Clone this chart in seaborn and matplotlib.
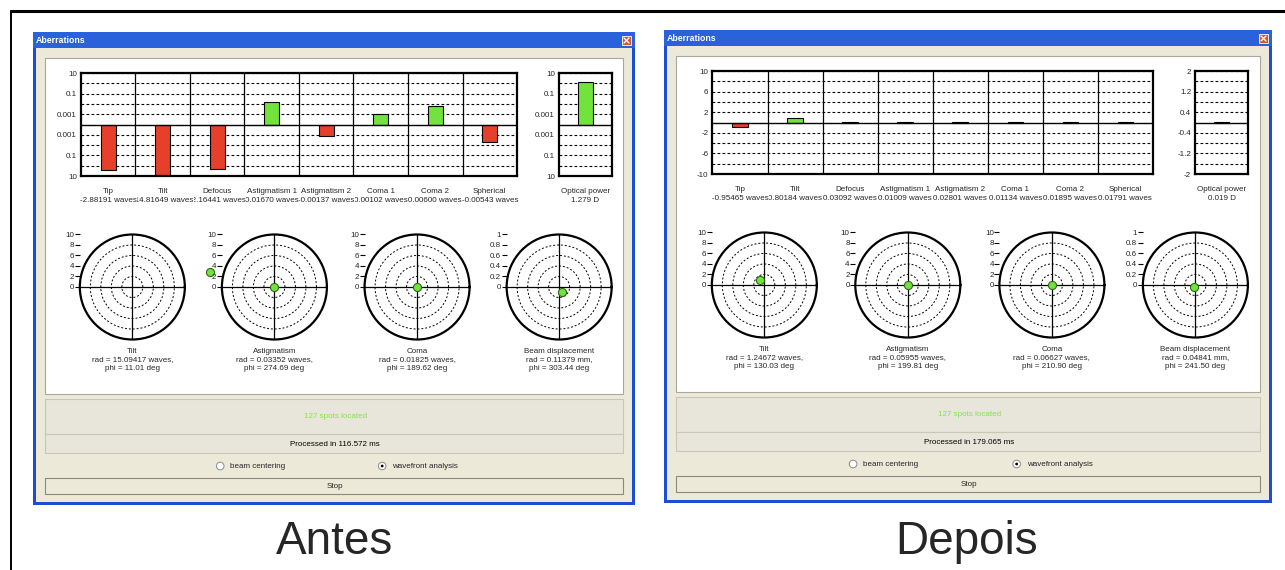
import numpy as np
import seaborn as sns
import matplotlib.pyplot as plt
from matplotlib import patches

# aberration coefficients (bar charts)
names = ['Tip', 'Tilt', 'Defocus', 'Astigmatism 1', 'Astigmatism 2', 'Coma 1', 'Coma 2', 'Spherical']
before_waves = [-2.88191, -14.81649, -2.16441, 0.01670, -0.00137, 0.00102, 0.00600, -0.00543]
after_waves = [-0.95465, 0.80184, 0.03092, 0.01009, 0.02801, 0.01134, 0.01895, 0.01791]
before_power = 1.279
after_power = 0.019

# axis ticks of the bar charts
before_yticks = [-10, -1, -0.1, -0.01, -0.001, 0.001, 0.01, 0.1, 1, 10]
before_ylabels = ['10', '', '0.1', '', '0.001', '0.001', '', '0.1', '', '10']
after_yticks = [-10, -8, -6, -4, -2, 2, 4, 6, 8, 10]
after_ylabels = ['-10', '', '-6', '', '-2', '2', '', '6', '', '10']
after_power_yticks = [-2, -1.6, -1.2, -0.8, -0.4, 0.4, 0.8, 1.2, 1.6, 2]
after_power_ylabels = ['-2', '', '-1.2', '', '-0.4', '0.4', '', '1.2', '', '2']

# polar plots
polar_names = ['Tilt', 'Astigmatism', 'Coma', 'Beam displacement']
polar_units = ['waves', 'waves', 'waves', 'mm']
polar_rmax = [10, 10, 10, 1]
polar_rlabels = [['0', '2', '4', '6', '8', '10']] * 3 + [['0', '0.2', '0.4', '0.6', '0.8', '1']]
before_rad = [15.09417, 0.03352, 0.01825, 0.11379]
before_phi = [11.01, 274.69, 189.62, 303.44]
after_rad = [1.24672, 0.05955, 0.06627, 0.04841]
after_phi = [130.03, 199.81, 210.90, 241.50]

before_ms = 116.572
after_ms = 179.065
spots = 127

W, H = 1285, 570
RED = '#e6402a'
GREEN = '#72e23c'
XP_GRAY = '#ece9d8'
SMALL = 5.8


def px_axes(fig, x0, y0, x1, y1, **kw):
    return fig.add_axes([x0 / W, 1 - y1 / H, (x1 - x0) / W, (y1 - y0) / H], **kw)


def bar_panel(fig, box, labels, values, yticks, ylabels, value_fmt, symlog):
    ax = px_axes(fig, *box)
    colors = [RED if v < 0 else GREEN for v in values]
    sns.barplot(x=labels, y=values, hue=labels, palette=colors, legend=False, width=0.28,
                saturation=1, edgecolor='black', linewidth=0.8, ax=ax)
    if symlog:
        ax.set_yscale('symlog', linthresh=1e-4, linscale=1e-6)
    ax.set_ylim(yticks[0], yticks[-1])
    ax.set_yticks(yticks, ylabels)
    ax.set_xlim(-0.5, len(labels) - 0.5)
    ax.set_xticks(np.arange(0.5, len(labels) - 1), minor=True)
    ax.set_xlabel('')
    ax.set_ylabel('')
    ax.set_axisbelow(True)
    ax.grid(axis='y', which='major', color='black', ls=(0, (2.5, 2)), lw=0.8)
    ax.grid(axis='x', which='minor', color='black', ls='-', lw=0.9)
    ax.axhline(0, color='black', lw=1.0)
    ax.tick_params(which='both', length=0, labelsize=SMALL)
    ax.tick_params(axis='y', pad=3)
    ax.tick_params(axis='x', pad=8.5)
    for s in ax.spines.values():
        s.set_visible(True)
        s.set_linewidth(1.6)
        s.set_color('black')
    n = len(values)
    for i, v in enumerate(values):
        ax.annotate(value_fmt.format(v), xy=(i, 0), xycoords=('data', 'axes fraction'),
                    xytext=(0, -15), textcoords='offset points', ha='center', va='top',
                    fontsize=SMALL, annotation_clip=False, zorder=10 + n - i,
                    bbox=dict(facecolor='white', edgecolor='none', pad=0.2))
    return ax


def polar_panel(fig, cx, cy, r_px, rad, phi, rmax, rlabels):
    ax = px_axes(fig, cx - r_px, cy - r_px, cx + r_px, cy + r_px, projection='polar')
    sns.scatterplot(x=[np.radians(phi)], y=[rad], ax=ax, s=34, color=GREEN,
                    edgecolor='#2d6b12', linewidth=0.8, clip_on=False, zorder=5)
    ax.set_rlim(0, rmax)
    ax.set_rticks(np.linspace(0, rmax, 6)[1:-1])
    ax.set_yticklabels([])
    ax.set_thetagrids([0, 90, 180, 270], labels=[])
    ax.set_xlabel('')
    ax.set_ylabel('')
    ax.yaxis.grid(True, color='black', ls=(0, (2, 2)), lw=0.7)
    ax.xaxis.grid(True, color='black', ls='-', lw=0.9)
    ax.spines['polar'].set_linewidth(1.6)
    ax.spines['polar'].set_color('black')
    ax.set_facecolor('white')

    lab = px_axes(fig, cx - r_px, cy - r_px, cx + r_px, cy + r_px)
    lab.set_ylim(-rmax, rmax)
    lab.set_yticks(np.linspace(0, rmax, 6), rlabels)
    lab.set_xticks([])
    lab.patch.set_visible(False)
    for s in lab.spines.values():
        s.set_visible(False)
    lab.tick_params(axis='y', left=True, length=3.5, width=0.8, pad=0.5, labelsize=SMALL, color='black')


def window(fig, bg, x0, x1, top, bottom, waves, power, yticks, ylabels, pticks, plabels,
           symlog, rads, phis, ms):
    w = x1 - x0
    # window chrome
    bg.add_patch(patches.Rectangle((x0, top), w, bottom - top, facecolor='#1c4fcf', edgecolor='none'))
    bg.add_patch(patches.Rectangle((x0, top), w, 16, facecolor='#2a62dc', edgecolor='none'))
    bg.add_patch(patches.Rectangle((x0 + 3, top + 16), w - 6, bottom - top - 19,
                                   facecolor=XP_GRAY, edgecolor='none'))
    bg.text(x0 + 3, top + 8.5, 'Aberrations', color='white', fontweight='bold', fontsize=6.3, va='center')
    bg.add_patch(patches.Rectangle((x1 - 13, top + 4), 9, 9, facecolor='#d9532c', edgecolor='white', lw=0.6))
    bg.plot([x1 - 11, x1 - 6], [top + 6, top + 11], color='white', lw=1.0)
    bg.plot([x1 - 11, x1 - 6], [top + 11, top + 6], color='white', lw=1.0)

    # white plotting area
    bg.add_patch(patches.Rectangle((x0 + 12, top + 26), w - 24, 336, facecolor='white',
                                   edgecolor='#a8a8a0', lw=0.8))
    # status boxes
    bg.add_patch(patches.Rectangle((x0 + 12, top + 367), w - 24, 35, facecolor='#e8e6da',
                                   edgecolor='#c9c6b8', lw=0.8))
    bg.add_patch(patches.Rectangle((x0 + 12, top + 402), w - 24, 19, facecolor='#e8e6da',
                                   edgecolor='#c9c6b8', lw=0.8))
    cx = x0 + 0.502 * w
    bg.text(cx, top + 385, f'{spots} spots located', color='#86e050', fontsize=SMALL, ha='center', va='center')
    bg.text(cx, top + 412, f'Processed in {ms:.3f} ms', color='black', fontsize=SMALL, ha='center', va='center')
    # radio buttons
    for frac, label, checked in [(0.311, 'beam centering', False), (0.58, 'wavefront analysis', True)]:
        rx = x0 + frac * w
        bg.add_patch(patches.Circle((rx, top + 434), 3.8, facecolor='white', edgecolor='#8c8c84', lw=0.7))
        if checked:
            bg.add_patch(patches.Circle((rx, top + 434), 1.4, facecolor='black', edgecolor='none'))
        bg.text(rx + 10, top + 434, label, fontsize=SMALL, va='center')
    # stop button
    bg.add_patch(patches.Rectangle((x0 + 12, top + 446), w - 24, 16, facecolor=XP_GRAY,
                                   edgecolor='#8a8a80', lw=0.8))
    bg.text(cx, top + 454, 'Stop', fontsize=SMALL, ha='center', va='center')

    # bar charts
    bar_panel(fig, (x0 + 0.0797 * w, top + 41, x0 + 0.804 * w, top + 144), names, waves,
              yticks, ylabels, '{:.5f} waves', symlog)
    bar_panel(fig, (x0 + 0.874 * w, top + 41, x0 + 0.961 * w, top + 144), ['Optical power'], [power],
              pticks, plabels, '{:.3f} D', symlog)

    # polar plots
    for k, frac in enumerate([0.165, 0.401, 0.638, 0.874]):
        pcx = x0 + frac * w
        polar_panel(fig, pcx, top + 255, 52.5, rads[k], phis[k], polar_rmax[k], polar_rlabels[k])
        bg.text(pcx, top + 328, f'{polar_names[k]}\nrad = {rads[k]:.5f} {polar_units[k]},\nphi = {phis[k]:.2f} deg',
                fontsize=SMALL, ha='center', va='center', linespacing=1.25)


def main():
    sns.set_theme(style='white')
    plt.rcParams['font.family'] = ['Liberation Sans', 'DejaVu Sans']

    fig = plt.figure(figsize=(W / 100, H / 100), dpi=100)
    bg = fig.add_axes([0, 0, 1, 1])
    bg.set_xlim(0, W)
    bg.set_ylim(H, 0)
    bg.axis('off')

    # outer frame
    bg.plot([11, W], [11, 11], color='black', lw=2.2)
    bg.plot([11, 11], [11, H], color='black', lw=1.4)

    window(fig, bg, 33, 635, 32, 505, before_waves, before_power, before_yticks, before_ylabels,
           before_yticks, before_ylabels, True, before_rad, before_phi, before_ms)
    window(fig, bg, 664, 1272, 30, 503, after_waves, after_power, after_yticks, after_ylabels,
           after_power_yticks, after_power_ylabels, False, after_rad, after_phi, after_ms)

    bg.text(335, 542, 'Antes', fontsize=33, ha='center', va='center')
    bg.text(967, 542, 'Depois', fontsize=33, ha='center', va='center')

    fig.savefig('out.png', dpi=100)


if __name__ == '__main__':
    main()
